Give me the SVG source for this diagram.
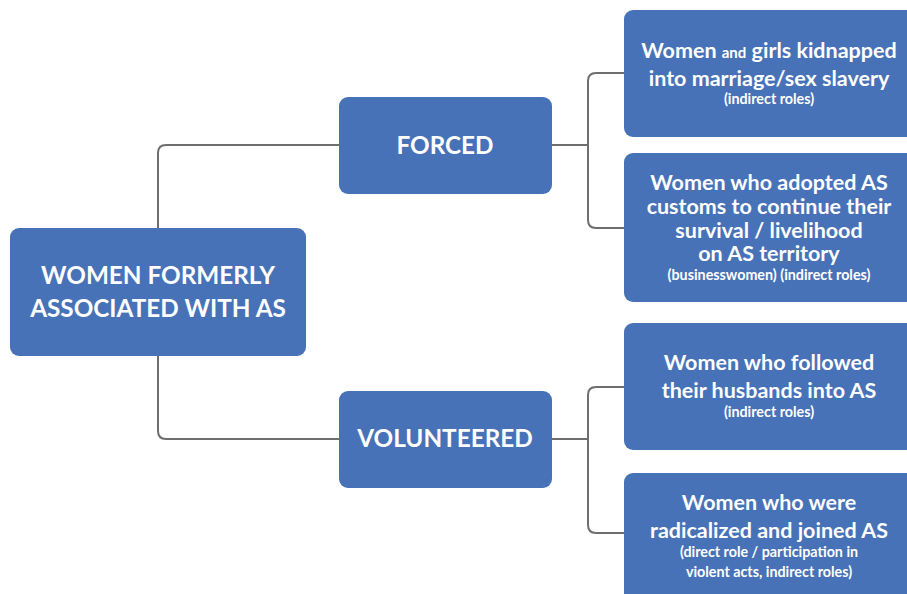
<svg xmlns="http://www.w3.org/2000/svg" width="907" height="594" viewBox="0 0 907 594">
<style>
.box{fill:#4872B8;}
.t{font-family:Lato,"Open Sans","Liberation Sans",sans-serif;font-weight:bold;fill:#ffffff;text-anchor:middle;}
.big{font-size:24.3px;}
.mid{font-size:21.5px;}
.sm{font-size:14.3px;}
.con{fill:none;stroke:#6E6E6E;stroke-width:2;}
</style>
<rect width="907" height="594" fill="#ffffff"/>
<g id="connectors">
<path class="con" d="M158,228 V153 Q158,145 166,145 H339"/>
<path class="con" d="M158,356 V431 Q158,439 166,439 H339"/>
<path class="con" d="M552,145 H588"/>
<path class="con" d="M624,73 H596 Q588,73 588,81 V220 Q588,228 596,228 H624"/>
<path class="con" d="M552,439 H588"/>
<path class="con" d="M624,387 H596 Q588,387 588,395 V525 Q588,533 596,533 H624"/>
</g>
<g id="root">
<rect class="box" x="10" y="228" width="296" height="128" rx="9"/>
<text class="t big" x="158" y="284">WOMEN FORMERLY</text>
<text class="t big" x="158" y="317">ASSOCIATED WITH AS</text>
</g>
<g id="forced">
<rect class="box" x="339" y="97" width="213" height="97" rx="9"/>
<text class="t big" x="445" y="154">FORCED</text>
</g>
<g id="volunteered">
<rect class="box" x="339" y="391" width="213" height="97" rx="9"/>
<text class="t big" x="445" y="447">VOLUNTEERED</text>
</g>
<g id="kidnapped">
<rect class="box" x="624" y="10" width="300" height="127" rx="9"/>
<text class="t mid" x="769" y="58">Women <tspan font-size="15">and</tspan> girls kidnapped</text>
<text class="t mid" x="769" y="86">into marriage/sex slavery</text>
<text class="t sm" x="769" y="104">(indirect roles)</text>
</g>
<g id="adopted">
<rect class="box" x="624" y="153" width="300" height="149" rx="9"/>
<text class="t mid" x="769" y="190">Women who adopted AS</text>
<text class="t mid" x="769" y="214">customs to continue their</text>
<text class="t mid" x="769" y="238">survival / livelihood</text>
<text class="t mid" x="769" y="261">on AS territory</text>
<text class="t sm" x="769" y="280">(businesswomen) (indirect roles)</text>
</g>
<g id="followed">
<rect class="box" x="624" y="323" width="300" height="127" rx="9"/>
<text class="t mid" x="769" y="370">Women who followed</text>
<text class="t mid" x="769" y="398">their husbands into AS</text>
<text class="t sm" x="769" y="417">(indirect roles)</text>
</g>
<g id="radicalized">
<rect class="box" x="624" y="473" width="300" height="140" rx="9"/>
<text class="t mid" x="769" y="510">Women who were</text>
<text class="t mid" x="769" y="538">radicalized and joined AS</text>
<text class="t sm" x="769" y="557">(direct role / participation in</text>
<text class="t sm" x="769" y="577">violent acts, indirect roles)</text>
</g>
</svg>
